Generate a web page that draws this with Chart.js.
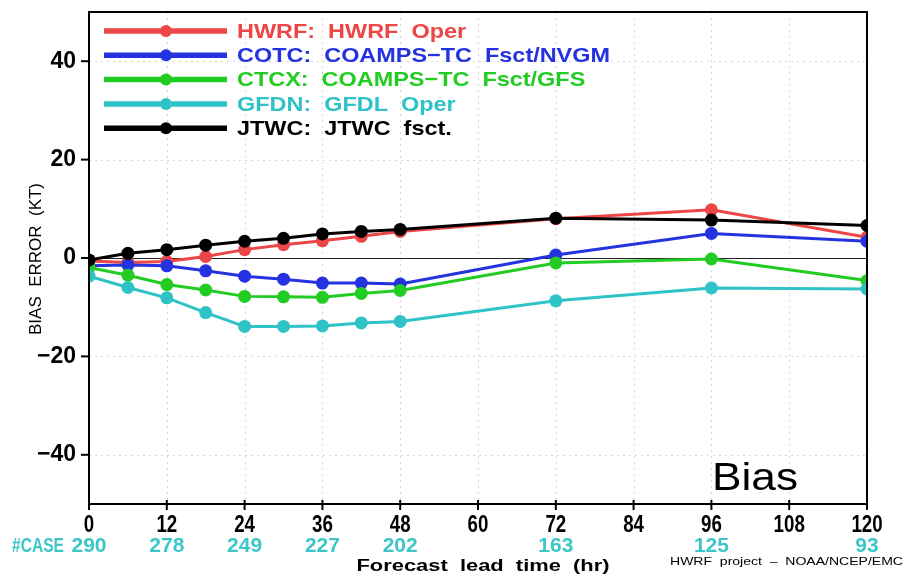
<!DOCTYPE html>
<html>
<head>
<meta charset="utf-8">
<script src="https://cdn.jsdelivr.net/npm/chart.js@4.4.0/dist/chart.umd.min.js"></script>
<style>
    html, body { margin: 0; padding: 0; background: #fff; }
    canvas { display: block; }
</style>
</head>
<body>
<canvas id="biasChart" width="904" height="578"></canvas>
<script>
// forecast lead times (hr) and bias error (kt) per model
const leadHours = [0, 6, 12, 18, 24, 30, 36, 42, 48, 72, 96, 120];
const hwrfBias = [-0.6, -0.9, -0.7, 0.3, 1.7, 2.7, 3.5, 4.4, 5.4, 8.0, 9.8, 4.2];
const cotcBias = [-1.6, -1.4, -1.6, -2.6, -3.7, -4.3, -5.1, -5.1, -5.3, 0.6, 5.0, 3.4];
const ctcxBias = [-1.9, -3.5, -5.4, -6.5, -7.8, -7.9, -8.0, -7.2, -6.6, -1.0, -0.2, -4.6];
const gfdnBias = [-3.7, -6.0, -8.1, -11.1, -13.9, -13.9, -13.8, -13.2, -12.9, -8.7, -6.1, -6.3];
const jtwcBias = [-0.4, 0.95, 1.7, 2.6, 3.4, 4.0, 4.9, 5.4, 5.8, 8.1, 7.7, 6.6];

const seriesLabels = [
    'HWRF:  HWRF  Oper',
    'COTC:  COAMPS\u2212TC  Fsct/NVGM',
    'CTCX:  COAMPS\u2212TC  Fsct/GFS',
    'GFDN:  GFDL  Oper',
    'JTWC:  JTWC  fsct.'
];
const seriesColors = ['#ec4646', '#2432e0', '#22cc22', '#2fc2c6', '#000000'];

const xTicks = [0, 12, 24, 36, 48, 60, 72, 84, 96, 108, 120];
const yTicks = [-40, -20, 0, 20, 40];

const caseHours = [0, 12, 24, 36, 48, 72, 96, 120];
const caseCounts = [290, 278, 249, 227, 202, 163, 125, 93];

const FONT = "'Liberation Sans', Arial, sans-serif";

// draw text squeezed/stretched to a given width
function fitText(ctx, text, x, y, width, align) {
    const w = ctx.measureText(text).width;
    const sx = width / w;
    ctx.save();
    ctx.translate(x, y);
    ctx.scale(sx, 1);
    ctx.textAlign = align || 'left';
    ctx.fillText(text, 0, 0);
    ctx.restore();
}

const gridPlugin = {
    id: 'gridLines',
    beforeDatasetsDraw(chart) {
        const { ctx, chartArea: a, scales: { x, y } } = chart;
        ctx.save();
        ctx.lineWidth = 1;
        ctx.strokeStyle = '#d6d6d6';
        ctx.setLineDash([2, 4]);
        xTicks.forEach((t) => {
            if (t === 0 || t === 120) return;
            const px = Math.round(x.getPixelForValue(t)) + 0.5;
            ctx.beginPath();
            ctx.moveTo(px, a.top);
            ctx.lineTo(px, a.bottom);
            ctx.stroke();
        });
        yTicks.forEach((t) => {
            if (t === 0) return;
            const py = Math.round(y.getPixelForValue(t)) + 0.5;
            ctx.beginPath();
            ctx.moveTo(a.left, py);
            ctx.lineTo(a.right, py);
            ctx.stroke();
        });
        ctx.setLineDash([]);
        ctx.strokeStyle = '#222';
        const zy = Math.round(y.getPixelForValue(0)) + 0.5;
        ctx.beginPath();
        ctx.moveTo(a.left, zy);
        ctx.lineTo(a.right, zy);
        ctx.stroke();
        ctx.restore();
    },
    afterDraw(chart) {
        const { ctx, chartArea: a, scales: { x, y } } = chart;
        ctx.save();

        // frame and tick marks
        ctx.strokeStyle = '#000';
        ctx.lineWidth = 2;
        ctx.strokeRect(a.left, a.top, a.right - a.left, a.bottom - a.top);
        yTicks.forEach((t) => {
            const py = y.getPixelForValue(t);
            ctx.beginPath();
            ctx.moveTo(a.left - 8, py);
            ctx.lineTo(a.left, py);
            ctx.stroke();
        });
        xTicks.forEach((t) => {
            const px = x.getPixelForValue(t);
            ctx.beginPath();
            ctx.moveTo(px, a.bottom - 4);
            ctx.lineTo(px, a.bottom + 6);
            ctx.stroke();
        });

        // x tick labels, narrow and tall
        ctx.fillStyle = '#000';
        ctx.font = 'bold 24px ' + FONT;
        ctx.textBaseline = 'middle';
        xTicks.forEach((t) => {
            const txt = String(t);
            const w = ctx.measureText(txt).width * 0.78;
            fitText(ctx, txt, x.getPixelForValue(t), 525, w, 'center');
        });

        // legend
        ctx.font = 'bold 21px ' + FONT;
        const scaleX = 373 / ctx.measureText(seriesLabels[1]).width;
        seriesLabels.forEach((label, i) => {
            const ly = 31 + i * 24.3;
            ctx.strokeStyle = seriesColors[i];
            ctx.lineWidth = 5.5;
            ctx.beginPath();
            ctx.moveTo(104, ly);
            ctx.lineTo(227, ly);
            ctx.stroke();
            ctx.fillStyle = seriesColors[i];
            ctx.beginPath();
            ctx.arc(166, ly, 6, 0, Math.PI * 2);
            ctx.fill();
            const w = ctx.measureText(label).width * scaleX;
            fitText(ctx, label, 237, ly + 1, w);
        });

        // case counts row
        ctx.fillStyle = '#3cc6c8';
        ctx.font = 'bold 20px ' + FONT;
        caseHours.forEach((h, i) => {
            const txt = String(caseCounts[i]);
            const w = ctx.measureText(txt).width * 1.05;
            fitText(ctx, txt, x.getPixelForValue(h), 546, w, 'center');
        });
        fitText(ctx, '#CASE', 12, 546, 52, 'left');

        // axis titles
        ctx.fillStyle = '#000';
        ctx.font = 'bold 16px ' + FONT;
        fitText(ctx, 'Forecast  lead  time  (hr)', 483, 567, 253, 'center');

        ctx.save();
        ctx.translate(37, 259);
        ctx.rotate(-Math.PI / 2);
        ctx.font = '16px ' + FONT;
        fitText(ctx, 'BIAS  ERROR  (KT)', 0, 0, 152, 'center');
        ctx.restore();

        ctx.font = '11px ' + FONT;
        fitText(ctx, 'HWRF  project  \u2013  NOAA/NCEP/EMC', 670, 562, 233, 'left');

        ctx.textBaseline = 'alphabetic';
        ctx.font = '38px ' + FONT;
        fitText(ctx, 'Bias', 712, 490, 86, 'left');

        ctx.restore();
    }
};

const seriesData = [hwrfBias, cotcBias, ctcxBias, gfdnBias, jtwcBias];
const datasets = seriesData.map((values, i) => ({
    label: seriesLabels[i],
    data: leadHours.map((h, j) => ({ x: h, y: values[j] })),
    borderColor: seriesColors[i],
    backgroundColor: seriesColors[i],
    borderWidth: 3,
    pointRadius: 6.5,
    pointBorderWidth: 0,
    tension: 0,
    order: seriesData.length - i
}));

new Chart(document.getElementById('biasChart'), {
    type: 'line',
    data: { datasets },
    options: {
        responsive: false,
        animation: false,
        devicePixelRatio: 1,
        layout: { padding: { top: 12, right: 37, left: 0, bottom: 0 } },
        plugins: { legend: { display: false }, tooltip: { enabled: false } },
        scales: {
            x: {
                type: 'linear',
                min: 0,
                max: 120,
                afterBuildTicks: (scale) => { scale.ticks = xTicks.map((v) => ({ value: v })); },
                afterFit: (scale) => {
                    scale.height = 74;
                    scale.paddingLeft = 0;
                    scale.paddingRight = 0;
                },
                grid: { display: false, drawTicks: false },
                border: { display: false },
                ticks: { display: false }
            },
            y: {
                min: -50,
                max: 50,
                afterBuildTicks: (scale) => { scale.ticks = yTicks.map((v) => ({ value: v })); },
                afterFit: (scale) => {
                    scale.width = 89;
                    scale.paddingTop = 0;
                    scale.paddingBottom = 0;
                },
                grid: { display: false, drawTicks: false },
                border: { display: false },
                ticks: {
                    padding: 13,
                    color: '#000',
                    font: { family: FONT, size: 23, weight: 'bold' },
                    callback: (v) => v < 0 ? '\u2212' + Math.abs(v) : String(v)
                }
            }
        }
    },
    plugins: [gridPlugin]
});
</script>
</body>
</html>
